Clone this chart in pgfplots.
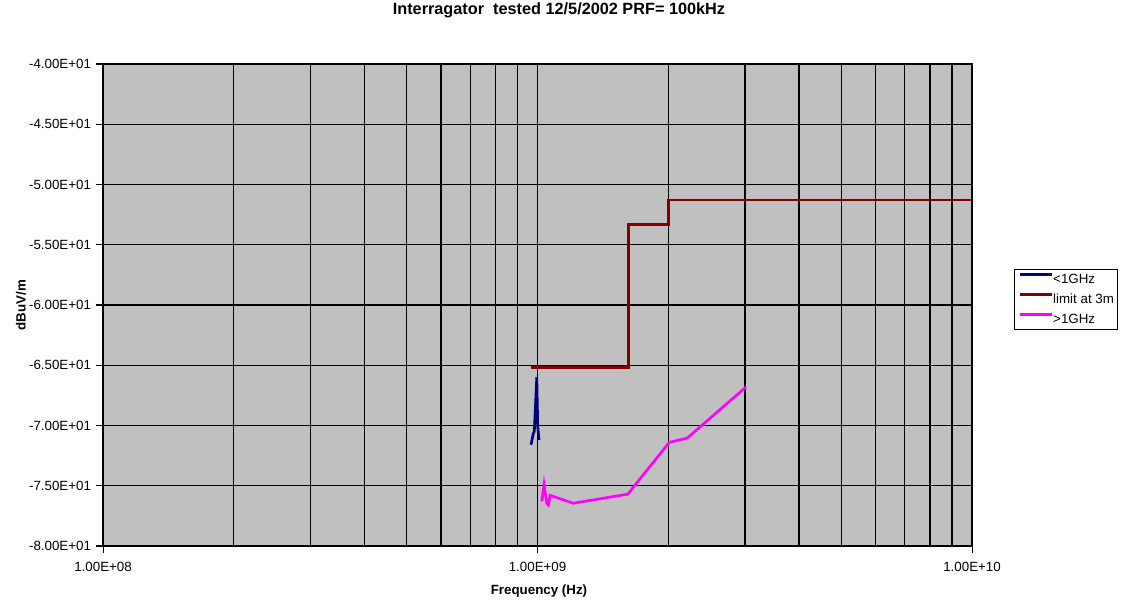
\documentclass[border=0pt]{standalone}
\usepackage{pgfplots}
\pgfplotsset{compat=1.18}
\usepackage{fontspec}
\setmainfont{Liberation Sans}
\definecolor{bgray}{HTML}{C0C0C0}
\definecolor{navy}{HTML}{000080}
\definecolor{maroon}{HTML}{800000}
\definecolor{magentaX}{HTML}{FF00FF}
\begin{document}
\begin{tikzpicture}
\begin{axis}[
  scale only axis,
  width=651.75pt, height=361.5pt,
  xmode=log,
  xmin=1e8, xmax=1e10,
  ymin=-80, ymax=-40,
  log basis x=10,
  xtick={1e8,1e9,1e10},
  xticklabels={1.00E+08,1.00E+09,1.00E+10},
  ytick={-80,-75,-70,-65,-60,-55,-50,-45,-40},
  yticklabels={-8.00E+01,-7.50E+01,-7.00E+01,-6.50E+01,-6.00E+01,-5.50E+01,-5.00E+01,-4.50E+01,-4.00E+01},
  minor xtick={2e8,3e8,4e8,5e8,6e8,7e8,8e8,9e8,2e9,3e9,4e9,5e9,6e9,7e9,8e9,9e9},
  grid=both,
  major grid style={black, line width=1pt},
  minor grid style={black, line width=1pt},
  axis background/.style={fill=bgray},
  axis line style={black, line width=1pt},
  tick style={black, line width=0.8pt},
  tick align=outside,
  major tick length=5pt,
  minor tick length=0pt,
  xtick pos=bottom, ytick pos=left,
  tick label style={font=\fontsize{10}{12}\selectfont},
  yticklabel style={xshift=-0.5pt},
  xticklabel style={anchor=base, yshift=-14pt},
  legend style={at={(1.0483,0.5747)}, anchor=north west, draw=black, line width=0.8pt,
    font=\fontsize{10}{12}\selectfont, inner xsep=3pt, inner ysep=2.5pt, row sep=5.4pt,
    nodes={inner sep=0pt, text height=7.2pt, text depth=2pt},
    /tikz/every even column/.append style={column sep=4pt},
    legend cell align=left},
  legend image code/.code={\draw[#1] (0pt,4.2pt) -- (24pt,4.2pt);},
  clip=true,
]
\addplot[navy, line width=2pt] coordinates {
 (9.66e8,-71.6) (9.78e8,-70.65) (9.83e8,-70.5) (9.96e8,-66.0) (1.001e9,-70.1) (1.008e9,-71.2)
};
\addlegendentry{<1GHz}
\addplot[maroon, line width=2pt] coordinates {
 (9.64e8,-65.2) (1.62e9,-65.2) (1.62e9,-53.3) (2.0e9,-53.3) (2.0e9,-51.3) (1e10,-51.3)
};
\addlegendentry{limit at 3m}
\addplot[magentaX, line width=2pt] coordinates {
 (1.023e9,-76.3) (1.035e9,-74.9) (1.05e9,-76.45) (1.059e9,-76.6) (1.069e9,-75.8) (1.209e9,-76.45) (1.613e9,-75.7) (2.01e9,-71.4) (2.21e9,-71.05) (3.02e9,-66.8)
};
\addlegendentry{>1GHz}
\end{axis}
\node[font=\bfseries\fontsize{12.2}{14}\selectfont, anchor=base, inner sep=0pt] at (342pt,398.25pt) {Interragator\ \ tested 12/5/2002 PRF= 100kHz};
\node[font=\bfseries\fontsize{10}{12}\selectfont, anchor=base, inner sep=0pt] at (327pt,-36pt) {Frequency (Hz)};
\node[font=\bfseries\fontsize{10}{12}\selectfont, rotate=90, anchor=base, inner sep=0pt] at (-58pt,180.75pt) {dBuV/m};
\pgfresetboundingbox
\useasboundingbox (-77.25pt,-43.5pt) rectangle (764.25pt,409.5pt);
\end{tikzpicture}
\end{document}
